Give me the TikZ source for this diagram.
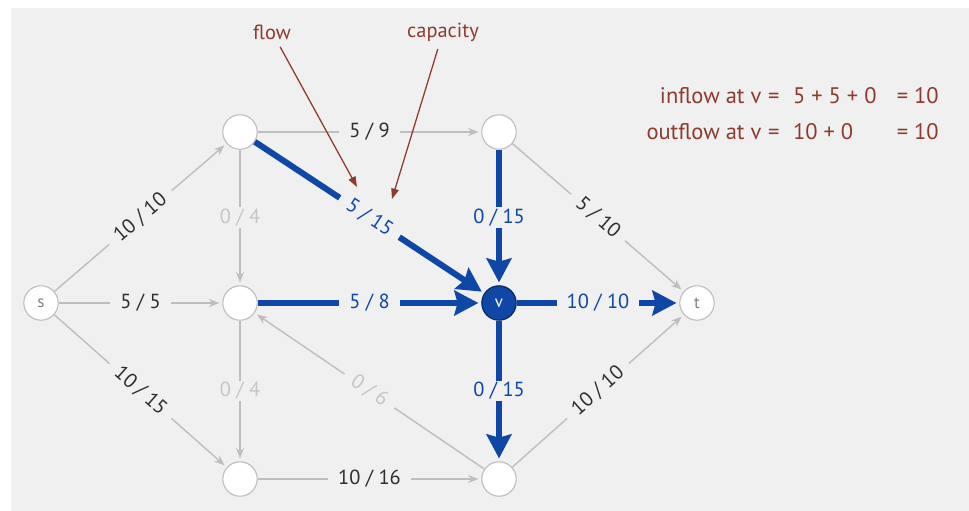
\documentclass[tikz,border=0pt]{standalone}
\usepackage{fontspec}
\setmainfont{PT Sans}
\usetikzlibrary{arrows.meta,positioning}
\definecolor{bgray}{HTML}{F0F0F0}
\definecolor{edgegray}{HTML}{BEBEBE}
\definecolor{flowblue}{HTML}{0E47A6}
\definecolor{notered}{HTML}{8E3A2E}
\definecolor{lightlbl}{HTML}{C6C6C6}
\tikzset{
  vertex/.style={circle, draw=edgegray, line width=0.8pt, fill=white, minimum size=0.86cm, inner sep=0pt, text=gray, font=\fontsize{12}{14}\selectfont},
  grayedge/.style={draw=edgegray, line width=1pt, -{Stealth[length=0.26cm,width=0.2cm]}, shorten >=2pt},
  blueedge/.style={draw=flowblue, line width=4.3pt, -{Stealth[length=0.6cm,width=0.62cm,inset=0.08cm]}, shorten >=2pt},
  edgelbl/.style={fill=bgray, inner xsep=7pt, inner ysep=1pt, font=\fontsize{14.5}{16}\selectfont, text=black!82},
  notelbl/.style={font=\fontsize{14.5}{16}\selectfont, text=notered},
  notearrow/.style={draw=notered, line width=0.9pt, -{Triangle[length=0.26cm,width=0.19cm]}, shorten <=2pt}
}
\begin{document}
\begin{tikzpicture}[x=0.025cm, y=-0.025cm]
  \useasboundingbox (0,0) rectangle (969,511);
  % Background
  \fill[bgray] (11,8) rectangle (969,511);
  % Vertices
  \node[vertex] (s) at (41,303) {s};
  \node[vertex] (a) at (240,132) {};
  \node[vertex] (b) at (240,303) {};
  \node[vertex] (c) at (240,479) {};
  \node[vertex] (d) at (499,132) {};
  \node[vertex, fill=flowblue, draw=flowblue!55!black, text=white] (v) at (499,303) {v};
  \node[vertex] (e) at (499,479) {};
  \node[vertex] (t) at (697,303) {t};
  % Edges with no flow change at v
  \draw[grayedge] (s) -- node[edgelbl, sloped] {10 / 10} (a);
  \draw[grayedge] (s) -- node[edgelbl] {5 / 5} (b);
  \draw[grayedge] (s) -- node[edgelbl, sloped] {10 / 15} (c);
  \draw[grayedge] (a) -- node[edgelbl] {5 / 9} (d);
  \draw[grayedge] (a) -- node[edgelbl, text=lightlbl] {0 / 4} (b);
  \draw[grayedge] (b) -- node[edgelbl, text=lightlbl] {0 / 4} (c);
  \draw[grayedge] (e) -- node[edgelbl, sloped, text=lightlbl] {0 / 6} (b);
  \draw[grayedge] (c) -- node[edgelbl] {10 / 16} (e);
  \draw[grayedge] (d) -- node[edgelbl, sloped] {5 / 10} (t);
  \draw[grayedge] (e) -- node[edgelbl, sloped] {10 / 10} (t);
  % Edges into and out of v
  \draw[blueedge] (a) -- node[edgelbl, sloped, text=flowblue] {5 / 15} (v);
  \draw[blueedge] (d) -- node[edgelbl, text=flowblue] {0 / 15} (v);
  \draw[blueedge] (b) -- node[edgelbl, text=flowblue] {5 / 8} (v);
  \draw[blueedge] (v) -- node[edgelbl, text=flowblue] {10 / 10} (t);
  \draw[blueedge] (v) -- node[edgelbl, text=flowblue] {0 / 15} (e);
  % Callouts
  \node[notelbl] (flowlbl) at (272,32) {flow};
  \node[notelbl] (caplbl) at (443,32) {capacity};
  \coordinate (flowtip) at (357,187);
  \coordinate (captip) at (392,199);
  \draw[notearrow] (flowlbl) -- (flowtip);
  \draw[notearrow] (caplbl) -- (captip);
  % Conservation at v
  \node[notelbl, font=\fontsize{16}{25.5}\selectfont, anchor=north east, inner sep=0pt] (balance) at (939,78)
    {\begin{tabular}{@{}r@{\hspace{0.3em}=\hspace{0.6em}}l@{\hspace{0.9em}}l@{}}
      inflow at v & 5 + 5 + 0 & = 10\\
      outflow at v & 10 + 0 & = 10
    \end{tabular}};
\end{tikzpicture}
\end{document}
